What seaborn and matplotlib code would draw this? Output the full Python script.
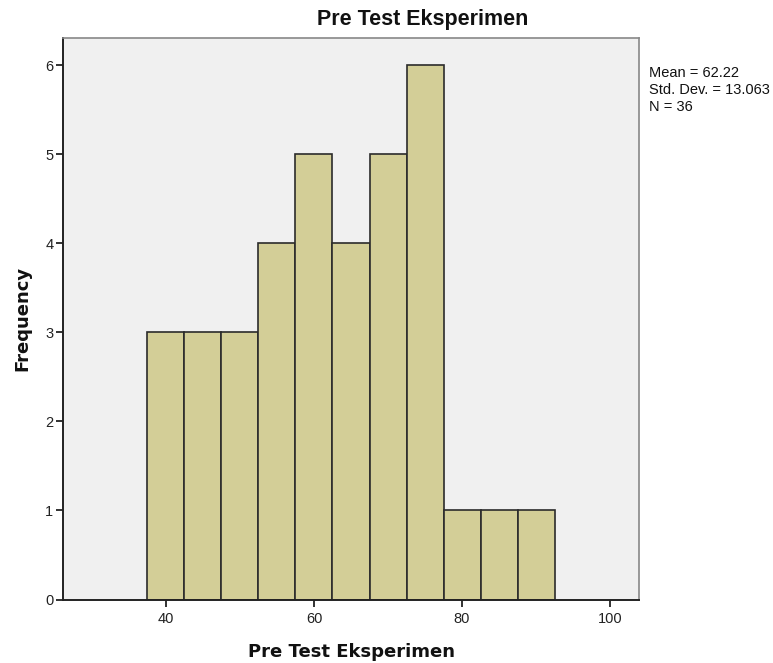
import numpy as np
import pandas as pd
import matplotlib
matplotlib.use("Agg")
import matplotlib.pyplot as plt
import seaborn as sns

# Data
bin_centers = [40, 45, 50, 55, 60, 65, 70, 75, 80, 85, 90]
frequencies = [3, 3, 3, 4, 5, 4, 5, 6, 1, 1, 1]
bin_edges = [37.5, 42.5, 47.5, 52.5, 57.5, 62.5, 67.5, 72.5, 77.5, 82.5, 87.5, 92.5]
x_ticks = [40, 60, 80, 100]
y_ticks = [0, 1, 2, 3, 4, 5, 6]
stats_lines = ["Mean = 62.22", "Std. Dev. = 13.063", "N = 36"]

df = pd.DataFrame({"value": bin_centers, "freq": frequencies})

sns.set_style("white")
plt.rcParams['font.family'] = ['Liberation Sans', 'DejaVu Sans']

fig = plt.figure(figsize=(7.73, 6.63), dpi=100)
ax = fig.add_axes([63/773, 1-599.5/663, (639-63)/773, (599.5-37.7)/663])
ax.set_facecolor("#F0F0F0")

sns.histplot(data=df, x="value", weights="freq", bins=bin_edges, ax=ax,
             color="#D3CE97", edgecolor="#2b2b2b", linewidth=1.2, alpha=1)

ax.set_xlim(26.1, 103.9)
ax.set_ylim(0, 6.31)
ax.set_xticks(x_ticks)
ax.set_yticks(y_ticks)
ax.tick_params(axis='both', which='major', bottom=True, left=True, top=False, right=False,
               direction='out', length=5, width=1.3, color="#222222",
               labelsize=10.5, labelcolor="#222222", pad=2)
ax.tick_params(axis='x', pad=4)
for side in ["top", "right"]:
    ax.spines[side].set_color("#888888")
    ax.spines[side].set_linewidth(1.2)
for side in ["left", "bottom"]:
    ax.spines[side].set_color("#222222")
    ax.spines[side].set_linewidth(1.4)

ax.set_xlabel("Pre Test Eksperimen", fontsize=13, fontweight="bold", labelpad=12,
              family=["DejaVu Sans"], color="#111111")
ax.set_ylabel("Frequency", fontsize=13, fontweight="bold", labelpad=9.5,
              family=["DejaVu Sans"], color="#111111")

fig.text(423/773, 1-19/663, "Pre Test Eksperimen", ha="center", va="center",
         fontsize=15.5, fontweight="bold", color="#111111")
fig.text(649/773, 1-66/663, "\n".join(stats_lines), ha="left", va="top",
         fontsize=10.5, linespacing=1.28, color="#111111")

fig.savefig("out.png", dpi=100)
